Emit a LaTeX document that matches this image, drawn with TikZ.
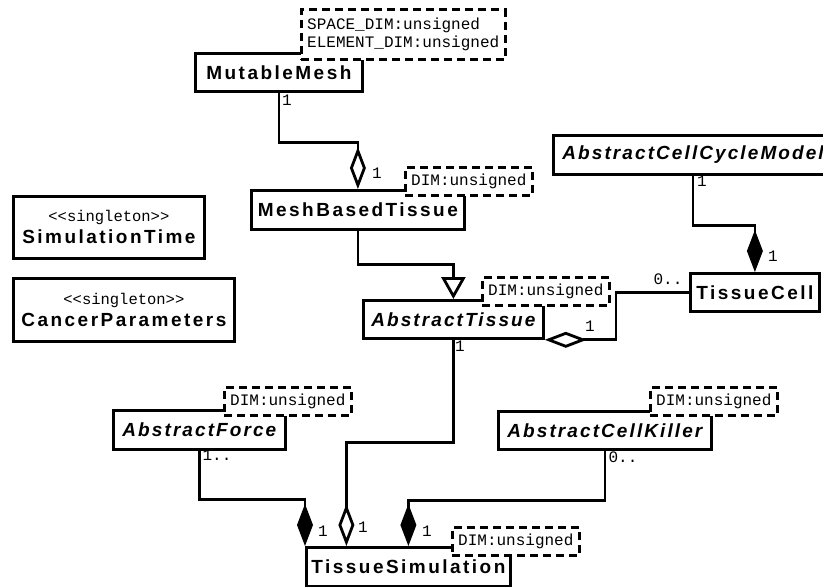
\documentclass[tikz,border=0pt]{standalone}
\usepackage{fontspec}
\usetikzlibrary{arrows.meta,calc}
\newfontfamily\clsfont[LetterSpace=13]{Liberation Sans}
\newfontfamily\absfont[LetterSpace=11]{Liberation Sans}
\newfontfamily\monofont{Liberation Mono}
\newcommand{\stereo}[1]{{\monofont\mdseries\upshape\fontsize{15.5}{16}\selectfont #1}}

\tikzset{
  umlclass/.style={draw, rectangle, fill=white, line width=2.8pt, anchor=north west,
    inner sep=0pt, align=center, font={\clsfont\bfseries\fontsize{19}{22}\selectfont}},
  abstractclass/.style={umlclass, font={\absfont\bfseries\itshape\fontsize{19}{22}\selectfont}},
  tparam/.style={draw, fill=white, line width=2.8pt, dash pattern=on 8pt off 5pt,
    anchor=south west, inner xsep=6pt, inner ysep=6.5pt, align=left,
    font={\monofont\fontsize{16}{18}\selectfont}},
  mult/.style={inner sep=0pt, font={\monofont\fontsize{16}{16}\selectfont}},
  assoc/.style={line width=2.8pt},
  compos/.style={assoc, -{Diamond[length=42pt,width=16pt]}},
  aggreg/.style={assoc, -{Diamond[open,length=42pt,width=16pt]}},
  inherit/.style={assoc, -{Triangle[open,length=22pt,width=24pt]}}
}

\begin{document}
\begin{tikzpicture}[x=1pt,y=-1pt]
\useasboundingbox (0,0) rectangle (823,587);

% classes
\node[umlclass, minimum width=167pt, minimum height=38pt] (mesh) at (194,52) {MutableMesh};
\node[umlclass, minimum width=213pt, minimum height=39pt] (mbt) at (250,189) {MeshBasedTissue};
\node[umlclass, minimum width=191pt, minimum height=62pt] (simtime) at (12,195) {\stereo{<<singleton>>}\\SimulationTime};
\node[umlclass, minimum width=221pt, minimum height=63pt] (cancer) at (12,277) {\stereo{<<singleton>>}\\CancerParameters};
\node[abstractclass, inner xsep=9pt, minimum height=39pt] (ccm) at (552,134) {AbstractCellCycleModel};
\node[abstractclass, minimum width=180pt, minimum height=38pt] (tissue) at (362,299) {AbstractTissue};
\node[umlclass, minimum width=129pt, minimum height=38pt] (cell) at (689,272) {TissueCell};
\node[abstractclass, minimum width=172pt, minimum height=39pt] (force) at (112,409) {AbstractForce};
\node[abstractclass, minimum width=213pt, minimum height=38pt] (killer) at (497,410) {AbstractCellKiller};
\node[umlclass, minimum width=204pt, minimum height=39pt] (sim) at (305,546) {TissueSimulation};

% relations
\draw[aggreg] (mesh.south) -- ++(0,50) -| (mbt.north);
\draw[inherit] (mbt.south) -- ++(0,34) -| (tissue.north);
\draw[aggreg] (cell.west) -- ++(-73,0) |- (tissue.south east);
\draw[compos] ($(ccm.south west)+(141,0)$) -- ++(0,50) -| (cell.north);
\draw[aggreg] (tissue.south) -- ++(0,103) -| ([xshift=-62pt]sim.north);
\draw[compos] (force.south) -- ++(0,49) -| (sim.north west);
\draw[compos] (killer.south) -- ++(0,50) -| (sim.north);

% template parameters
\node[tparam, inner ysep=8.5pt] (meshP) at ([xshift=-64pt,yshift=-9pt]mesh.north east) {SPACE\_DIM:unsigned\\ELEMENT\_DIM:unsigned};
\node[tparam] (mbtP) at ([xshift=-62pt,yshift=-8pt]mbt.north east) {DIM:unsigned};
\node[tparam] (tissueP) at ([xshift=-64pt,yshift=-8pt]tissue.north east) {DIM:unsigned};
\node[tparam] (forceP) at ([xshift=-64pt,yshift=-8pt]force.north east) {DIM:unsigned};
\node[tparam] (killerP) at ([xshift=-64pt,yshift=-7pt]killer.north east) {DIM:unsigned};
\node[tparam] (simP) at ([xshift=-61pt,yshift=-11pt]sim.north east) {DIM:unsigned};

% multiplicities
\node[mult] (mMesh) at (287,100) {1};
\node[mult] (mMbt) at (377,173) {1};
\node[mult] (mCcm) at (702,181) {1};
\node[mult] (mCcmCell) at (773,256) {1};
\node[mult] (mCell) at (668,279) {0..};
\node[mult] (mTisCell) at (590,326) {1};
\node[mult] (mTissue) at (460,346) {1};
\node[mult] (mForce) at (217,455) {1..};
\node[mult] (mKiller) at (623,457) {0..};
\node[mult] (mSimForce) at (323,531) {1};
\node[mult] (mSimTissue) at (363,527) {1};
\node[mult] (mSimKiller) at (427,531) {1};
\end{tikzpicture}
\end{document}
